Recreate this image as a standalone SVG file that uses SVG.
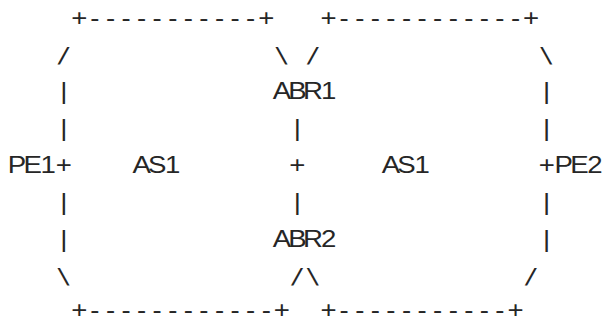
<svg xmlns="http://www.w3.org/2000/svg" width="605" height="323" viewBox="0 0 605 323">
<style>
text{font-family:"Liberation Sans",Arial,sans-serif;font-size:23px;fill:#262626;text-anchor:middle}
text.s{font-family:"DejaVu Sans Mono",monospace;font-size:21px}
</style>
<rect width="605" height="323" fill="#fff"/>
<g transform="scale(1.2 1)">
<g id="connectors">
<text x="66.10 79.08 92.07 105.05 118.03 131.02 144.00 156.98 169.97 182.95 195.93 208.92 221.90" y="25.7">+-----------+</text>
<text x="273.83 286.81 299.80 312.78 325.76 338.75 351.73 364.71 377.70 390.68 403.66 416.64 429.63 442.61" y="25.7">+------------+</text>
<text class="s" x="53.12" y="62.6">/</text>
<text class="s" x="234.88" y="62.6">\</text>
<text class="s" x="260.85" y="62.6">/</text>
<text class="s" x="455.59" y="62.6">\</text>
<text x="53.12" y="99.5">|</text>
<text x="455.59" y="99.5">|</text>
<text x="53.12" y="136.4">|</text>
<text x="247.86" y="136.4">|</text>
<text x="455.59" y="136.4">|</text>
<text x="53.12" y="173.3">+</text>
<text x="247.86" y="173.3">+</text>
<text x="455.59" y="173.3">+</text>
<text x="53.12" y="210.2">|</text>
<text x="247.86" y="210.2">|</text>
<text x="455.59" y="210.2">|</text>
<text x="53.12" y="247.1">|</text>
<text x="455.59" y="247.1">|</text>
<text class="s" x="53.12" y="284.0">\</text>
<text class="s" x="247.86" y="284.0">/</text>
<text class="s" x="260.85" y="284.0">\</text>
<text class="s" x="442.61" y="284.0">/</text>
<text x="66.10 79.08 92.07 105.05 118.03 131.02 144.00 156.98 169.97 182.95 195.93 208.92 221.90 234.88" y="318">+------------+</text>
<text x="273.83 286.81 299.80 312.78 325.76 338.75 351.73 364.71 377.70 390.68 403.66 416.64 429.63" y="318">+-----------+</text>
</g>
<g id="PE1"><text x="14.17 27.15 40.13" y="173.3">PE1</text></g>
<g id="PE2"><text x="469.83 482.81 495.79" y="173.3">PE2</text></g>
<g id="ABR1"><text x="234.88 247.86 260.85 273.83" y="99.5">ABR1</text></g>
<g id="ABR2"><text x="234.88 247.86 260.85 273.83" y="247.1">ABR2</text></g>
<g id="AS1-left"><text x="118.03 131.02 144.00" y="173.3">AS1</text></g>
<g id="AS1-right"><text x="325.76 338.75 351.73" y="173.3">AS1</text></g>
</g>
</svg>
